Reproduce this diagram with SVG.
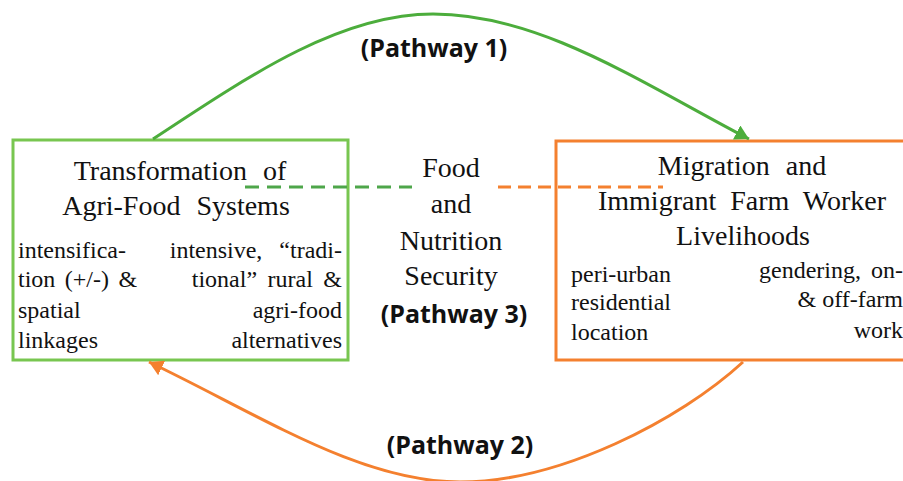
<svg xmlns="http://www.w3.org/2000/svg" width="903" height="481" viewBox="0 0 903 481">
<defs>
<style>
.hd{font-family:"Liberation Serif","Times New Roman",serif;font-size:28px;fill:#111;text-anchor:middle}
.tx{font-family:"Liberation Serif","Times New Roman",serif;font-size:24px;fill:#111}
.pw{font-family:"Open Sans","Liberation Sans",sans-serif;font-size:25px;font-weight:bold;fill:#111;text-anchor:middle}
.en{text-anchor:end}
.gbox{fill:#fff;stroke:#78c650;stroke-width:3}
.obox{fill:#fff;stroke:#f4802f;stroke-width:3}
.gcurve{fill:none;stroke:#4cad3c;stroke-width:3}
.ocurve{fill:none;stroke:#f4802f;stroke-width:3}
.gdash{fill:none;stroke:#4ea64a;stroke-width:3;stroke-dasharray:14 8}
.odash{fill:none;stroke:#f4802f;stroke-width:3;stroke-dasharray:13 7}
</style>
<marker id="arrG" viewBox="0 0 14 16" refX="14" refY="8" markerWidth="14" markerHeight="16" markerUnits="userSpaceOnUse" orient="auto">
<path d="M0,0 L14,8 L0,16 z" fill="#4cad3c"/>
</marker>
<marker id="arrO" viewBox="0 0 14 16" refX="14" refY="8" markerWidth="14" markerHeight="16" markerUnits="userSpaceOnUse" orient="auto">
<path d="M0,0 L14,8 L0,16 z" fill="#f4802f"/>
</marker>
</defs>
<rect width="903" height="481" fill="#fff"/>

<g id="node-agrifood">
<rect class="gbox" x="13" y="140" width="335" height="220"/>
<text class="hd" x="180" y="180" word-spacing="9">Transformation of</text>
<text class="hd" x="176" y="215" word-spacing="9">Agri-Food Systems</text>
<text class="tx" x="18" y="258">intensifica-</text>
<text class="tx" x="18" y="287" word-spacing="3.5">tion (+/-) &amp;</text>
<text class="tx" x="18" y="318">spatial</text>
<text class="tx" x="18" y="348">linkages</text>
<text class="tx en" x="342" y="258" word-spacing="11">intensive, “tradi-</text>
<text class="tx en" x="342" y="287" word-spacing="4.5">tional” rural &amp;</text>
<text class="tx en" x="342" y="318">agri-food</text>
<text class="tx en" x="342" y="348">alternatives</text>
</g>

<g id="node-migration">
<rect class="obox" x="556" y="141" width="360" height="219"/>
<text class="hd" x="742" y="175" word-spacing="9">Migration and</text>
<text class="hd" x="742" y="210" word-spacing="7">Immigrant Farm Worker</text>
<text class="hd" x="743" y="245">Livelihoods</text>
<text class="tx" x="571" y="282">peri-urban</text>
<text class="tx" x="571" y="310">residential</text>
<text class="tx" x="571" y="340">location</text>
<text class="tx en" x="903" y="278" word-spacing="4">gendering, on-</text>
<text class="tx en" x="903" y="307">&amp; off-farm</text>
<text class="tx en" x="903" y="338">work</text>
</g>

<g id="connectors">
<path class="gcurve" d="M153,139 C250,75 340,14 433,14 C540,14 640,82 749,139" marker-end="url(#arrG)"/>
<path class="ocurve" d="M743,362 C680,420 560,482 460,482 C360,482 260,415 149,362" marker-end="url(#arrO)"/>
<path class="gdash" d="M245,187 L412,187"/>
<path class="odash" d="M498,187 L663,187"/>
</g>

<g id="node-fns">
<text class="hd" x="451" y="177">Food</text>
<text class="hd" x="451" y="213">and</text>
<text class="hd" x="451" y="250">Nutrition</text>
<text class="hd" x="451" y="285">Security</text>
<text class="pw" x="454" y="323">(Pathway 3)</text>
</g>

<g id="labels">
<text class="pw" x="434" y="57">(Pathway 1)</text>
<text class="pw" x="460" y="454">(Pathway 2)</text>
</g>
</svg>
